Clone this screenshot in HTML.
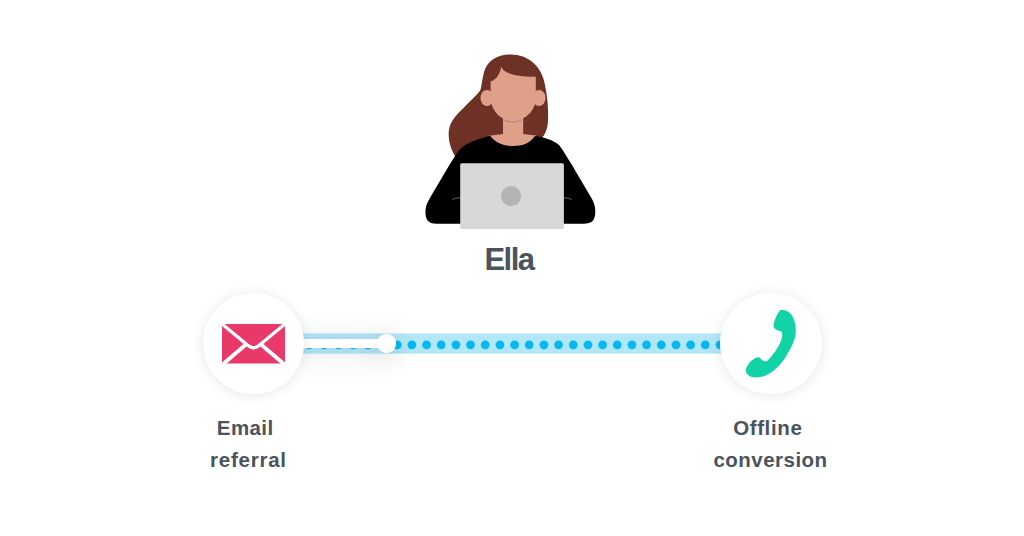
<!DOCTYPE html>
<html>
<head>
<meta charset="utf-8">
<style>
html,body{margin:0;padding:0;background:#fff;}
body{width:1024px;height:536px;position:relative;overflow:hidden;font-family:"Liberation Sans",sans-serif;}
.abs{position:absolute;}
.t{position:absolute;width:200px;text-align:center;font-weight:bold;color:#4b535d;font-size:20.5px;line-height:32px;white-space:nowrap;}
.circ{position:absolute;width:101.5px;height:101.7px;border-radius:50%;background:#fff;box-shadow:0 1px 13px rgba(0,0,0,0.10);}
</style>
</head>
<body>
<!-- track band -->
<svg class="abs" style="left:0;top:0" width="1024" height="536" viewBox="0 0 1024 536">
  <rect x="298" y="333.4" width="426" height="20.3" fill="#b3e6f7"/>
  <g fill="#05b9f0"><circle cx="309.20" cy="344.8" r="4.4"/><circle cx="323.87" cy="344.8" r="4.4"/><circle cx="338.54" cy="344.8" r="4.4"/><circle cx="353.21" cy="344.8" r="4.4"/><circle cx="367.88" cy="344.8" r="4.4"/><circle cx="382.55" cy="344.8" r="4.4"/><circle cx="397.22" cy="344.8" r="4.4"/><circle cx="411.89" cy="344.8" r="4.4"/><circle cx="426.56" cy="344.8" r="4.4"/><circle cx="441.23" cy="344.8" r="4.4"/><circle cx="455.90" cy="344.8" r="4.4"/><circle cx="470.57" cy="344.8" r="4.4"/><circle cx="485.24" cy="344.8" r="4.4"/><circle cx="499.91" cy="344.8" r="4.4"/><circle cx="514.58" cy="344.8" r="4.4"/><circle cx="529.25" cy="344.8" r="4.4"/><circle cx="543.92" cy="344.8" r="4.4"/><circle cx="558.59" cy="344.8" r="4.4"/><circle cx="573.26" cy="344.8" r="4.4"/><circle cx="587.93" cy="344.8" r="4.4"/><circle cx="602.60" cy="344.8" r="4.4"/><circle cx="617.27" cy="344.8" r="4.4"/><circle cx="631.94" cy="344.8" r="4.4"/><circle cx="646.61" cy="344.8" r="4.4"/><circle cx="661.28" cy="344.8" r="4.4"/><circle cx="675.95" cy="344.8" r="4.4"/><circle cx="690.62" cy="344.8" r="4.4"/><circle cx="705.29" cy="344.8" r="4.4"/><circle cx="719.96" cy="344.8" r="4.4"/></g>
</svg>
<!-- white progress bar with shadow -->
<div class="abs" style="left:290px;top:338.6px;width:97px;height:9.6px;background:#fff;box-shadow:0 3px 30px rgba(0,0,0,0.19);"></div>
<div class="abs" style="left:376.8px;top:333.8px;width:19px;height:19px;border-radius:50%;background:#fff;box-shadow:0 5px 26px rgba(0,0,0,0.16);"></div>
<div class="abs" style="left:290px;top:338.6px;width:97px;height:9.6px;background:#fff;"></div>
<div class="abs" style="left:376.8px;top:333.8px;width:19px;height:19px;border-radius:50%;background:#fff;"></div>

<div class="circ" style="left:202.6px;top:292.6px;"></div>
<div class="circ" style="left:720.3px;top:292.6px;"></div>

<svg class="abs" style="left:0;top:0" width="1024" height="536" viewBox="0 0 1024 536">
  <!-- envelope -->
  <rect x="222" y="324" width="63" height="39.5" fill="#e8396a"/>
  <path d="M219,321.5 L248,345.5 Q253.5,350 259,345.5 L288,321.5" fill="none" stroke="#fff" stroke-width="3.3"/>
  <path d="M220.8,366 L246.5,344 M286.2,366 L260.5,344" fill="none" stroke="#fff" stroke-width="3.9"/>
  <!-- phone -->
  <path fill="#12d3a6" d="M781.96,309.90 C783.24,309.97 785.80,310.24 787.55,311.29 C789.30,312.34 791.17,313.97 792.45,316.19 C793.73,318.40 794.71,321.78 795.24,324.58 C795.78,327.38 795.90,330.17 795.66,332.97 C795.43,335.77 794.97,338.33 793.85,341.36 C792.73,344.39 790.93,347.66 788.95,351.15 C786.97,354.65 784.52,359.08 781.96,362.34 C779.39,365.61 776.36,368.52 773.57,370.73 C770.77,372.95 767.97,374.51 765.17,375.63 C762.38,376.75 759.35,377.33 756.78,377.45 C754.22,377.56 751.61,377.26 749.79,376.33 C747.97,375.40 746.34,373.48 745.87,371.85 C745.41,370.22 746.11,368.36 746.99,366.54 C747.88,364.72 749.56,362.46 751.19,360.94 C752.82,359.43 755.38,357.96 756.78,357.45 C758.18,356.93 758.65,357.40 759.58,357.87 C760.51,358.33 761.45,359.69 762.38,360.24 C763.31,360.80 764.24,361.22 765.17,361.22 C766.11,361.22 766.34,361.81 767.97,360.24 C769.60,358.68 772.87,354.88 774.97,351.85 C777.06,348.82 779.35,344.86 780.56,342.06 C781.77,339.27 782.12,336.82 782.24,335.07 C782.35,333.32 782.12,332.44 781.26,331.57 C780.40,330.71 778.30,330.59 777.06,329.90 C775.83,329.20 774.38,328.50 773.85,327.38 C773.31,326.26 773.43,325.05 773.85,323.18 C774.27,321.32 775.36,318.24 776.36,316.19 C777.37,314.14 778.93,311.92 779.86,310.87 C780.79,309.83 780.68,309.83 781.96,309.90Z"/>

  <!-- woman -->
  <path fill="#6e3125" d="M510.7,54.5 C497,54.5 487,61 484,72 C482,80 481.5,86 480.5,90 C477,95 470,101 464,107.5 C457,114 450,121 448.8,131 C448,140 450.5,150 457,159 L541,139 C545,135 547.5,129 548,121 C548.5,108 547.5,98 545,85 C542,66 528,54.5 510.7,54.5 Z"/>
  <!-- ears -->
  <ellipse cx="487" cy="98" rx="6.5" ry="8" fill="#dfa08a"/>
  <ellipse cx="539" cy="98" rx="6.5" ry="8" fill="#dfa08a"/>
  <!-- neck -->
  <path fill="#dfa08a" d="M503,110 L523.2,110 L523.2,134 L536,135.5 L536,152 L489,152 L489,135.8 L503,134 Z"/>
  <!-- face -->
  <path fill="#dfa08a" d="M490.6,81.5 C496,80 500.5,74 501,66.6 C504,73.5 514,76.5 535.8,76.8 L535.8,98 C535.8,110 526,120.7 513,120.7 C500,120.7 490.7,110 490.7,98 Z"/>
  <path d="M504.5,120 Q513,124 521.5,120" fill="none" stroke="#c4887a" stroke-width="1.5"/>
  <!-- shirt -->
  <path fill="#000" d="M490,135.8 C496,143 503,146 513,146 C523,146 530,143 535,136 C545,137.5 553,140 559,145 C563,149 588,192 592,199 C596,206 596,214 594,219 C592,223 588,223.7 582,223.7 L436,223.7 C430,223.7 426,221 425.5,214 C425,207 427,203 430,198 C435,190 452,160 458,151.6 C462,146 470,141 490,135.8 Z"/>
  <path d="M452,199.5 Q456,197.5 461,197.3 M563,197.3 Q568,197.5 572,199.5" fill="none" stroke="#3d4b52" stroke-width="1.3"/>
  <!-- laptop -->
  <rect x="460.2" y="163.3" width="103.7" height="65.7" rx="1.5" fill="#d8d8d8"/>
  <circle cx="511.1" cy="196.1" r="10" fill="#b4b4b4"/>
</svg>

<div class="t" style="left:409px;top:240.3px;font-size:31px;line-height:40px;letter-spacing:-1.5px;">Ella</div>
<div class="t" style="left:145.2px;top:412px;letter-spacing:0.4px;">Email</div>
<div class="t" style="left:148.4px;top:444px;letter-spacing:0.77px;">referral</div>
<div class="t" style="left:667.8px;top:412px;letter-spacing:0.63px;">Offline</div>
<div class="t" style="left:670.5px;top:444px;letter-spacing:0.48px;">conversion</div>
</body>
</html>
